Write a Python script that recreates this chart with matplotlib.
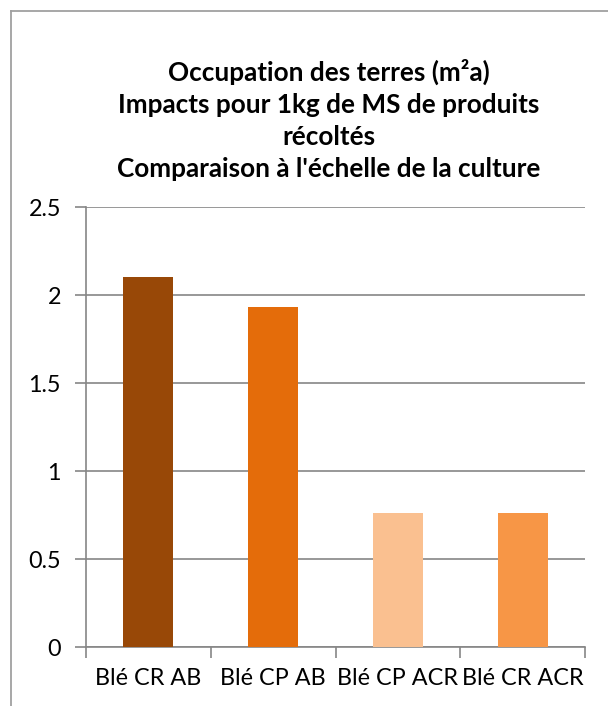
import matplotlib.pyplot as plt
from matplotlib.lines import Line2D

# Bar data.
categories = ['Blé CR AB', 'Blé CP AB', 'Blé CP ACR', 'Blé CR ACR']
values = [2.10, 1.93, 0.76, 0.76]
colors = ['#984807', '#E46C0A', '#FAC090', '#F79646']
yticks = [0, 0.5, 1, 1.5, 2, 2.5]
ytick_labels = ['0', '0.5', '1', '1.5', '2', '2.5']

title = ("Occupation des terres (m²a)\n"
         "Impacts pour 1kg de MS de produits\n"
         "récoltés\n"
         "Comparaison à l'échelle de la culture")

plt.rcParams['font.family'] = ['Lato', 'DejaVu Sans']
W, H = 608, 706
fig = plt.figure(figsize=(W / 100, H / 100), dpi=100)
ax = fig.add_axes([86 / W, 1 - 647 / H, (585 - 86) / W, (647 - 207) / H])

grey = '#868686'
x = list(range(len(categories)))
ax.bar(x, values, width=0.4, color=colors, zorder=3)

ax.set_xlim(-0.5, len(categories) - 0.5)
ax.set_ylim(0, 2.5)
ax.set_yticks(yticks)
ax.set_yticklabels(ytick_labels, fontsize=16.8)
ax.set_xticks(x)
ax.set_xticklabels(categories, fontsize=16.8)
ax.set_xticks([i - 0.5 for i in range(len(categories) + 1)], minor=True)
ax.tick_params(axis='x', which='major', length=0, pad=15)
ax.tick_params(axis='x', which='minor', length=8, color=grey, width=1.2)
ax.tick_params(axis='y', length=8, color=grey, width=1.2, pad=10)
ax.yaxis.grid(True, color=grey, linewidth=1.2, zorder=0)

for side in ['top', 'right']:
    ax.spines[side].set_visible(False)
for side in ['left', 'bottom']:
    ax.spines[side].set_color(grey)
    ax.spines[side].set_linewidth(1.2)

fig.text(329 / W, 1 - 120 / H, title, ha='center', va='center',
         fontsize=18.8, fontweight='bold', linespacing=1.40)

# Chart border (only left and top edges visible in the crop).
fig.add_artist(Line2D([10.5 / W, 10.5 / W], [0, 1 - 10.5 / H],
                      transform=fig.transFigure, color='#A0A0A0', lw=1.3))
fig.add_artist(Line2D([10.5 / W, 1], [1 - 10.5 / H, 1 - 10.5 / H],
                      transform=fig.transFigure, color='#A0A0A0', lw=1.3))

fig.savefig('out.png', dpi=100)
